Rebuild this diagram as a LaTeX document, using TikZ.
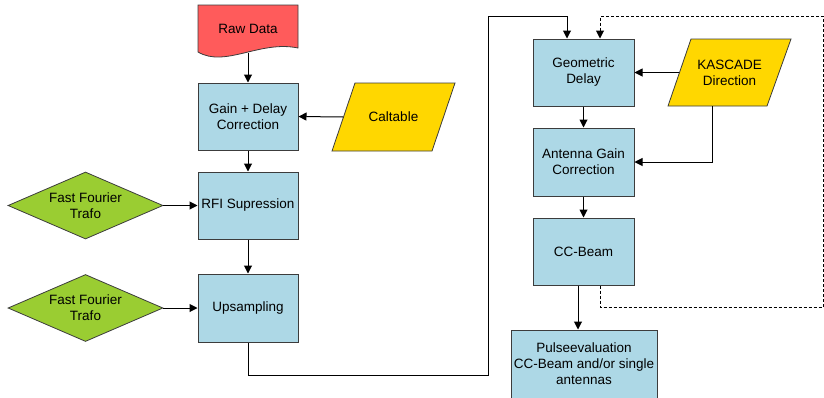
\documentclass[tikz,border=0pt]{standalone}
\usepackage{fontspec}
\setmainfont{Liberation Sans}
\usetikzlibrary{shapes.geometric,arrows.meta}
\definecolor{boxblue}{HTML}{ADD8E6}
\definecolor{rawred}{HTML}{FF5B5B}
\definecolor{fftgreen}{HTML}{9ACD32}
\definecolor{ioyellow}{HTML}{FFD700}
\definecolor{bordergray}{HTML}{3C3C3C}
\begin{document}
\begin{tikzpicture}[x=1pt,y=-1pt,
  font=\fontsize{13.5}{16}\selectfont,
  proc/.style={draw=bordergray, fill=boxblue, line width=1pt, minimum width=100pt, minimum height=67pt, inner sep=0pt, align=center},
  fft/.style={diamond, draw=bordergray, fill=fftgreen, line width=0.8pt, minimum width=155pt, minimum height=67pt, inner sep=0pt, aspect=2.3, align=center},
  ioshape/.style={draw=bordergray, fill=ioyellow, line width=0.8pt},
  io/.style={minimum width=100pt, minimum height=68pt, inner sep=0pt, align=center},
  arr/.style={line width=1pt, -{Triangle[length=8pt,width=8pt]}},
  link/.style={line width=1pt}]
\useasboundingbox (0,0) rectangle (824,397);
% raw data document shape
\filldraw[draw=bordergray, fill=rawred, line width=0.8pt]
  (198,5) -- (298,5) -- (298,48) .. controls (260,40) and (225,68) .. (198,52) -- cycle;
\node[minimum width=100pt, minimum height=48pt, inner sep=0pt] (raw) at (248,29) {Raw Data};
% left column
\node[proc] (gain) at (248,116.5) {Gain + Delay\\Correction};
\node[proc] (rfi) at (248,205.5) {RFI Supression};
\node[proc, minimum height=68pt] (up) at (248,308) {Upsampling};
\node[fft] (fft1) at (85.5,205.5) {Fast Fourier\\Trafo};
\node[fft] (fft2) at (85.5,308) {Fast Fourier\\Trafo};
\filldraw[ioshape] (355,83) -- (455,83) -- (432,151) -- (332,151) -- cycle;
\node[io] (cal) at (393.5,117) {Caltable};
% right column
\node[proc, minimum width=101pt] (geo) at (583.5,72.5) {Geometric\\Delay};
\node[proc, minimum width=101pt, minimum height=68pt] (agc) at (583.5,162) {Antenna Gain\\Correction};
\node[proc, minimum width=101pt] (cc) at (583.5,251.5) {CC-Beam};
\node[proc, minimum width=146pt, minimum height=68pt] (pulse) at (584,364) {Pulseevaluation\\CC-Beam and/or single\\antennas};
\filldraw[ioshape] (691,39) -- (791,39) -- (767,106) -- (668,106) -- cycle;
\node[io, minimum height=67pt] (kas) at (729.5,72.5) {KASCADE\\Direction};
% connectors
\draw[arr] (raw.south) -- (gain.north);
\draw[arr] (gain.south) -- (rfi.north);
\draw[arr] (rfi.south) -- (up.north);
\draw[arr] (cal.west) -- (gain.east);
\draw[arr] (fft1.east) -- (rfi.west);
\draw[arr] (fft2.east) -- (up.west);
\coordinate (l1) at (488,375);
\coordinate (l2) at (567,16);
\draw[arr] (up.south) |- (l1) |- (l2) -- (l2 |- geo.north);
\coordinate (d1) at (600,307);
\coordinate (d2) at (823,16);
\draw[arr, dashed, dash pattern=on 3pt off 2pt] (cc.south -| d1) -- (d1) -| (d2) -| (geo.north -| d1);
\draw[arr] (kas.west) -- (geo.east);
\draw[arr] ([xshift=-17.5pt]kas.south) |- (agc.east);
\draw[arr] (geo.south) -- (agc.north);
\draw[arr] (agc.south) -- (cc.north);
\draw[arr] ([xshift=-5.5pt]cc.south) -- ([xshift=-5.5pt]cc.south |- pulse.north);
\end{tikzpicture}
\end{document}
